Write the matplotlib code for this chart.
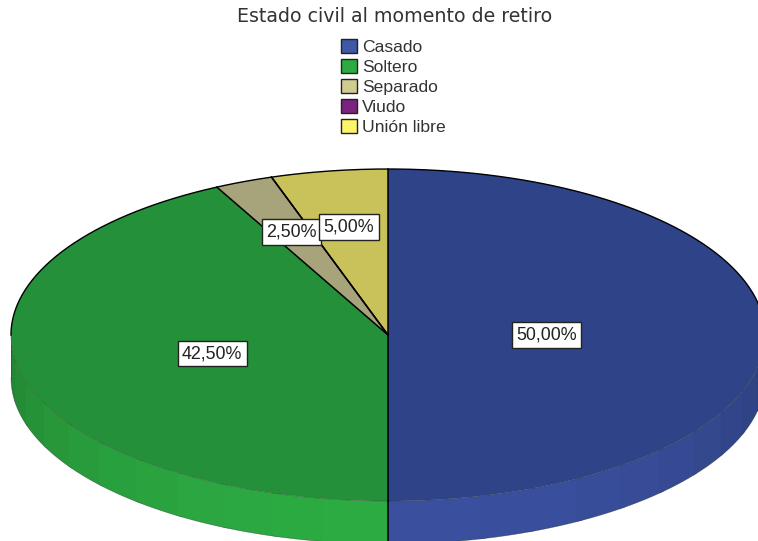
import numpy as np
import matplotlib
matplotlib.use("Agg")
import matplotlib.pyplot as plt
from matplotlib.patches import Patch
from matplotlib.colors import to_rgb

plt.rcParams['font.family'] = ['Liberation Sans', 'DejaVu Sans']

title = "Estado civil al momento de retiro"
categories = ["Casado", "Soltero", "Separado", "Viudo", "Unión libre"]
values = [50.0, 42.5, 2.5, 0.0, 5.0]
top_colors = ["#2f4488", "#24903a", "#a7a37a", "#6a1f70", "#c9c25a"]
legend_colors = ["#3f58a8", "#2cab42", "#d0cb90", "#7b2380", "#fbf56a"]
wall_colors = ["#3a509f", "#2cab42", "#d0cb90", "#7b2380", "#fbf56a"]
label_radius = [0.42, 0.48, 0.67, 0.0, 0.66]

W, H = 758, 541
CX, CY, RX, RY, DEPTH = 388, 335, 377, 166, 43

fig = plt.figure(figsize=(W / 100, H / 100), dpi=100, facecolor="white")
ax = fig.add_axes([0, 0, 1, 1])

wedges, _ = ax.pie(values, colors=top_colors, startangle=90, counterclock=False,
                   radius=1, wedgeprops=dict(edgecolor="none", linewidth=0, zorder=3))
ax.set_aspect("auto")
ax.set_xlim(-CX / RX, (W - CX) / RX)
ax.set_ylim((CY - H) / RY, CY / RY)
ax.axis("off")

depth = DEPTH / RY
edges = np.arange(180, 361, 8.0)
for wedge, base, val in zip(wedges, wall_colors, values):
    if val == 0:
        continue
    lo, hi = wedge.theta1, wedge.theta2
    for a0, a1 in zip(edges[:-1], edges[1:]):
        off = 360 if lo < 0 else 0
        s0, s1 = max(a0 - off, lo), min(a1 - off, hi)
        if s1 <= s0:
            continue
        # each facet runs a little under the next one so no seam shows
        t = np.radians(np.linspace(s0, min(s1 + 1.0, hi), 8))
        x, y = np.cos(t), np.sin(t)
        shade = 0.76 + 0.24 * min(1.0, abs(np.sin(np.radians((a0 + a1) / 2))) ** 0.9)
        col = tuple(c * shade for c in to_rgb(base))
        ax.fill(np.r_[x, x[::-1]], np.r_[y, y[::-1] - depth],
                facecolor=col, edgecolor="none", linewidth=0, zorder=1)

# rim lines: firm on the back half of the disc, faint along the front
t_front = np.radians(np.linspace(180, 360, 300))
t_back = np.radians(np.linspace(0, 180, 300))
ax.plot(np.cos(t_front), np.sin(t_front) - depth, color="#1a2a1a", lw=0.5, alpha=0.45, zorder=2)
ax.plot([-1, -1], [0, -depth], color="#1a2a1a", lw=0.5, alpha=0.45, zorder=2)
ax.plot(np.cos(t_front), np.sin(t_front), color="#1a2a1a", lw=0.5, alpha=0.45, zorder=4)
ax.plot(np.cos(t_back), np.sin(t_back), color="black", lw=1.0, zorder=4)
ax.plot([0, 0], [-1 - depth, -1], color="black", lw=1.1, zorder=4)
for wedge in wedges:
    a = np.radians(wedge.theta1)
    ax.plot([0, np.cos(a)], [0, np.sin(a)], color="black", lw=1.1, zorder=4)

for wedge, val, r in zip(wedges, values, label_radius):
    if val == 0:
        continue
    m = np.radians((wedge.theta1 + wedge.theta2) / 2)
    ax.text(r * np.cos(m), r * np.sin(m), f"{val:.2f}%".replace(".", ","),
            ha="center", va="center", fontsize=12.9, color="#222222", zorder=5,
            bbox=dict(boxstyle="square,pad=0.24", facecolor="white", edgecolor="#222222", linewidth=1.0))

fig.text(394.5 / W, 1 - 16 / H, title, ha="center", va="center", fontsize=13.65,
         color="#333333", family="DejaVu Sans")

handles = [Patch(facecolor=c, edgecolor="#222222", linewidth=1.0) for c in legend_colors]
ax.legend(handles, categories, loc="upper left", bbox_to_anchor=(341 / W, 1 - 38.5 / H),
          bbox_transform=fig.transFigure, frameon=False, fontsize=12.6, borderpad=0, borderaxespad=0,
          handlelength=0.92, handleheight=0.86, handletextpad=0.27, labelspacing=0.225,
          labelcolor="#333333")

fig.savefig("out.png", dpi=100, facecolor="white")
